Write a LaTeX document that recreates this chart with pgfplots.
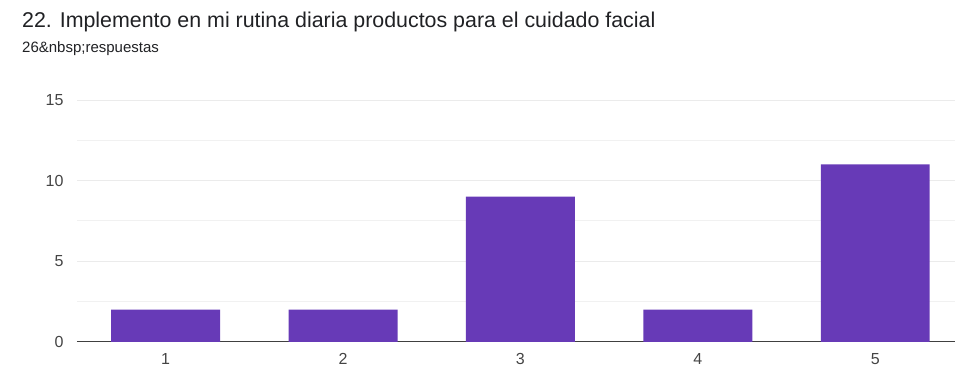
\documentclass[border=0pt]{standalone}
\usepackage{fontspec}
\setmainfont{Liberation Sans}
\usepackage{pgfplots}
\pgfplotsset{compat=1.18}
\definecolor{barc}{HTML}{673AB7}
\definecolor{gridc}{HTML}{EBEBEB}
\definecolor{tickc}{HTML}{444444}
\definecolor{titc}{HTML}{202124}
\begin{document}
\begin{tikzpicture}[x=1pt,y=1pt]
\path (0,0) rectangle (956,370);
\node[anchor=base west, inner sep=0, text=titc, font=\fontsize{21.4}{24}\selectfont] at (22,342) {22. Implemento en mi rutina diaria productos para el cuidado facial};
\node[anchor=base west, inner sep=0, text=titc, font=\fontsize{15}{17}\selectfont] at (22,317) {26\&nbsp;respuestas};
\begin{axis}[
  at={(77pt,28pt)}, anchor=south west,
  scale only axis, width=879pt, height=242pt,
  xmin=0.5, xmax=5.452, ymin=0, ymax=15,
  ybar, bar width=109pt, bar shift=0pt,
  xtick={1,2,3,4,5}, ytick={0,5,10,15}, minor ytick={2.5,7.5,12.5},
  ymajorgrids, yminorgrids,
  major grid style={gridc, line width=0.8pt},
  minor grid style={gridc!70, line width=0.8pt},
  major tick length=0pt, minor tick length=0pt,
  axis x line*=bottom, axis y line*=left,
  x axis line style={-, draw=black!75, line width=1.2pt},
  y axis line style={draw=none},
  tick label style={text=tickc, font=\fontsize{16}{18}\selectfont},
  /pgf/number format/assume math mode=true,
  xticklabel style={yshift=-8pt},
  yticklabel style={xshift=-10pt},
  clip=false,
]
\addplot[fill=barc, draw=none] coordinates {(1,2) (2,2) (3,9) (4,2) (5,11)};
\end{axis}
\end{tikzpicture}
\end{document}
